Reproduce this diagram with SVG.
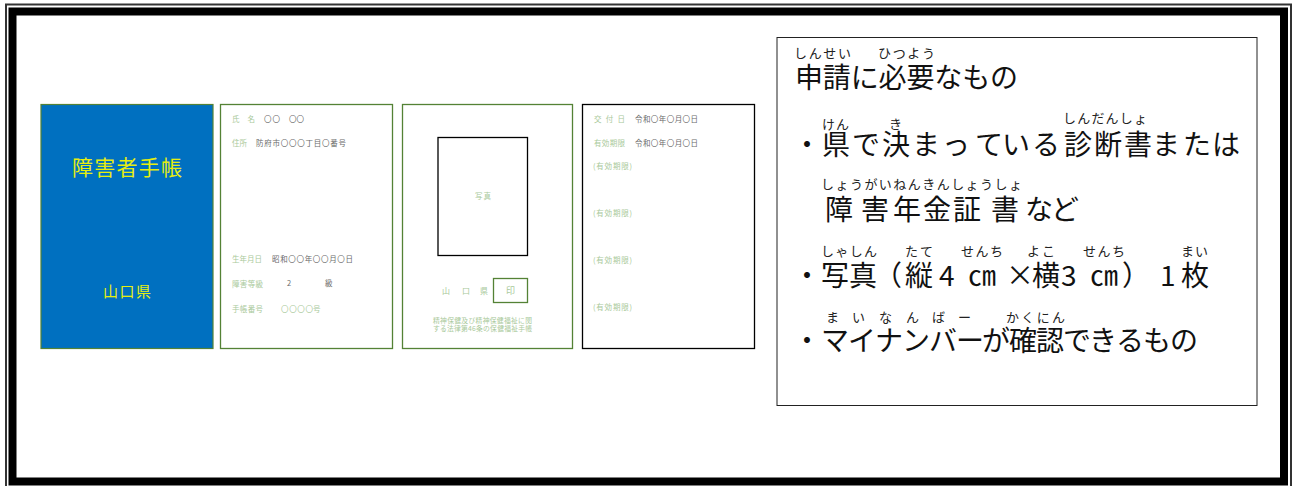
<svg xmlns="http://www.w3.org/2000/svg" width="1293" height="486" viewBox="0 0 1293 486">
<style>
text{font-family:"Noto Sans CJK JP","Noto Sans",sans-serif;white-space:pre}
.card{stroke:#548235;stroke-width:1.3;fill:#fff}
.blk{stroke:#000;stroke-width:1.3;fill:#fff}
.lab{font-size:7.5px;fill:#a9c99a}
.val{font-size:7.5px;fill:#6a6a6a}
.y{fill:#e6ee10}
.m{font-size:28px;fill:#111}
.r{font-size:13px;fill:#222}
</style>
<rect width="1293" height="486" fill="#fff"/>
<g id="frame" fill="none">
<rect x="6" y="4.500" width="1285" height="490" stroke="#333" stroke-width="2"/>
<rect x="12.500" y="11.500" width="1271.500" height="470" stroke="#000" stroke-width="8"/>
</g>
<g id="card-cover">
<rect x="41" y="104.500" width="172" height="244" fill="#0070c0" stroke="#548235" stroke-width="1.200"/>
<text class="y" x="72" y="175" font-size="21" textLength="110">障害者手帳</text>
<text class="y" x="103" y="297" font-size="15" textLength="48">山口県</text>
</g>
<g id="card-info">
<rect class="card" x="220.500" y="104.500" width="172" height="244"/>
<text class="lab" x="232" y="122" textLength="23">氏　名</text>
<text class="val" x="264" y="122" textLength="16">〇〇</text>
<text class="val" x="289" y="122" textLength="15">〇〇</text>
<text class="lab" x="232" y="146" textLength="15">住所</text>
<text class="val" x="256" y="146" textLength="90">防府市〇〇〇丁目〇番号</text>
<text class="lab" x="232" y="262" textLength="30">生年月日</text>
<text class="val" x="272" y="262" textLength="81">昭和〇〇年〇〇月〇日</text>
<text class="lab" x="232" y="287" textLength="31">障害等級</text>
<text class="val" x="287" y="286" font-family="Liberation Serif">2</text>
<text class="val" x="325" y="286" textLength="8">級</text>
<text class="lab" x="232" y="312" textLength="31">手帳番号</text>
<text class="lab" x="281" y="312" textLength="32">〇〇〇〇</text>
<text class="lab" x="313" y="312" textLength="8">号</text>
</g>
<g id="card-photo">
<rect class="card" x="402.500" y="104.500" width="170" height="244"/>
<rect class="blk" x="438" y="137.500" width="89.500" height="118"/>
<text class="lab" x="475" y="199" textLength="16">写真</text>
<text class="lab" x="442" y="294" style="font-size:8px">山</text>
<text class="lab" x="462" y="294" style="font-size:8px">口</text>
<text class="lab" x="480" y="294" style="font-size:8px">県</text>
<rect class="card" x="493.500" y="278.500" width="34" height="24"/>
<text class="lab" x="506" y="294" style="font-size:9px" textLength="9">印</text>
<text class="lab" x="433" y="323" style="font-size:6.800px" textLength="99">精神保健及び精神保健福祉に関</text>
<text class="lab" x="433" y="331" style="font-size:6.800px" textLength="99">する法律第46条の保健福祉手帳</text>
</g>
<g id="card-validity">
<rect class="blk" x="582.500" y="104.500" width="172" height="244"/>
<text class="lab" x="594" y="122" textLength="31">交 付 日</text>
<text class="val" x="635" y="122" textLength="63">令和〇年〇月〇日</text>
<text class="lab" x="594" y="146" textLength="31">有効期限</text>
<text class="val" x="635" y="146" textLength="63">令和〇年〇月〇日</text>
<text class="lab" x="593" y="169" textLength="39">(有効期限)</text>
<text class="lab" x="593" y="216" textLength="39">(有効期限)</text>
<text class="lab" x="593" y="263" textLength="39">(有効期限)</text>
<text class="lab" x="593" y="310" textLength="39">(有効期限)</text>
</g>
<g id="requirements">
<rect x="777" y="37.500" width="480" height="368" fill="#fff" stroke="#222" stroke-width="1"/>
<text class="r" x="794" y="58" textLength="57">しんせい</text>
<text class="r" x="878" y="58" textLength="57">ひつよう</text>
<text class="m" x="795" y="88" textLength="223">申請に必要なもの</text>
<text class="r" x="822" y="129" textLength="27">けん</text>
<text class="r" x="889" y="129">き</text>
<text class="r" x="1063" y="123" textLength="84">しんだんしょ</text>
<text class="m" x="793 822 852 882 912 942 975 1002 1032 1064 1094 1124 1152 1183 1212" y="155">・県で決まっている診断書または</text>
<text class="r" x="821" y="189" textLength="201">しょうがいねんきんしょうしょ</text>
<text class="m" x="825 861 893 923 953 991 1025 1051" y="220">障害年金証書など</text>
<text class="r" x="821" y="256" textLength="56">しゃしん</text>
<text class="r" x="905" y="256" textLength="28">たて</text>
<text class="r" x="961" y="256" textLength="42">せんち</text>
<text class="r" x="1027" y="256" textLength="28">よこ</text>
<text class="r" x="1083" y="256" textLength="42">せんち</text>
<text class="r" x="1181" y="256" textLength="27">まい</text>
<text class="m" x="793 821 849 874 905" y="286">・写真（縦</text>
<text class="m" x="939" y="286">4</text>
<text class="m" x="968" y="286">㎝</text>
<text class="m" x="1006 1032" y="286">×横</text>
<text class="m" x="1061" y="286">3</text>
<text class="m" x="1090" y="286">㎝</text>
<text class="m" x="1122" y="286">）</text>
<text class="m" x="1160" y="286">1</text>
<text class="m" x="1181" y="286">枚</text>
<text class="r" x="826 852 879 906 932 958" y="322">まいなんばー</text>
<text class="r" x="1006" y="322" textLength="59">かくにん</text>
<text class="m" x="793 821 848 875 902 929 956 982 1009 1036 1063 1089 1116 1143 1170" y="351">・マイナンバーが確認できるもの</text>
</g>
</svg>
